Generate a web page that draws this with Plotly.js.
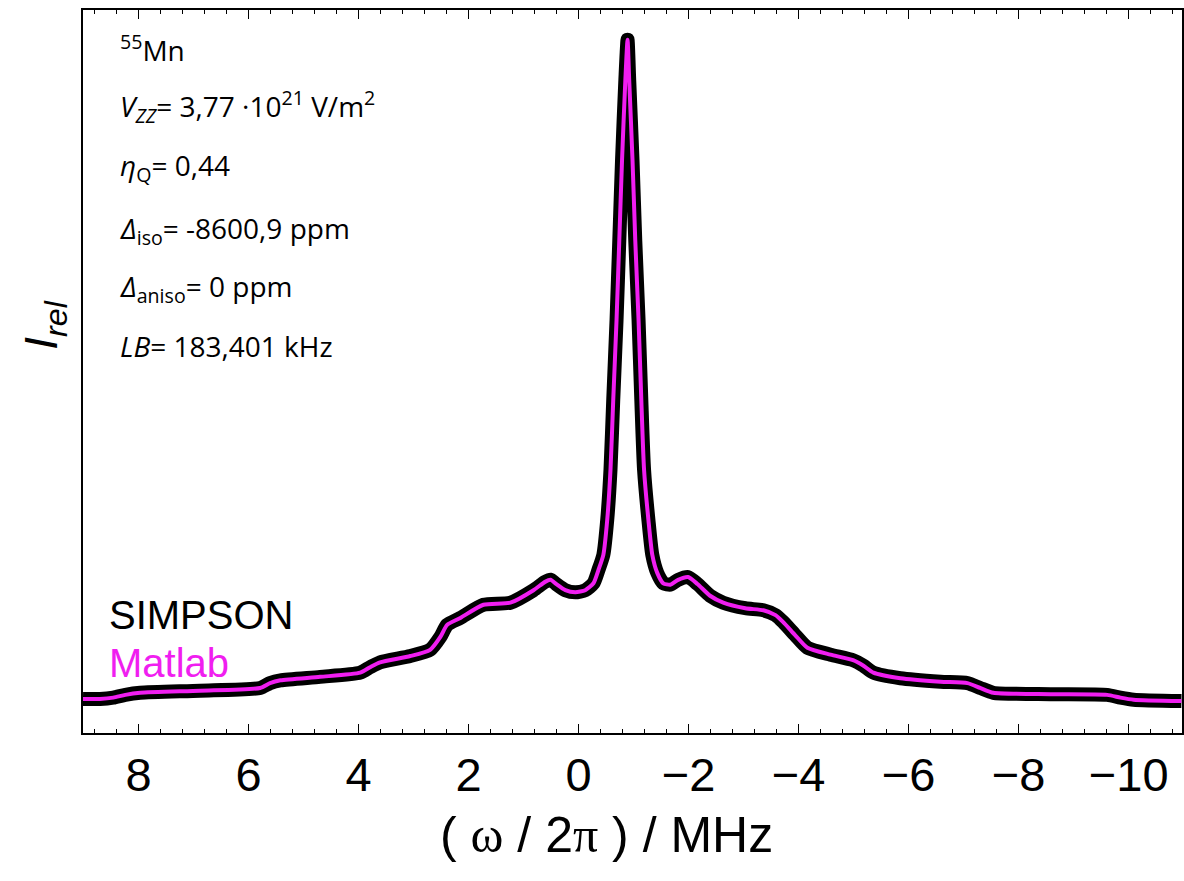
<!DOCTYPE html>
<html>
<head>
<meta charset="utf-8">
<script src="https://cdn.plot.ly/plotly-3.0.1.min.js"></script>
<style>html,body{margin:0;padding:0;background:#fff}#chart{width:1184px;height:881px}</style>
</head>
<body>
<div id="chart"></div>
<script>
// Frequency (MHz) and relative intensity
const freqMHz = [9.01, 8.70, 8.46, 8.24, 7.97, 6.88, 5.79, 5.61, 5.42, 4.70, 3.97, 3.79, 3.61, 3.06, 2.70, 2.51, 2.39, 2.15, 1.73, 1.24, 0.82, 0.61, 0.51, 0.41, 0.24, 0.06, -0.12, -0.27, -0.36, -0.45, -0.52, -0.58, -0.63, -0.69, -0.74, -0.79, -0.85, -0.89, -0.92, -0.98, -1.03, -1.09, -1.14, -1.19, -1.27, -1.34, -1.43, -1.54, -1.67, -1.81, -1.99, -2.16, -2.39, -2.63, -3.03, -3.36, -3.58, -3.72, -3.94, -4.16, -4.58, -4.99, -5.18, -5.36, -5.85, -6.58, -7.07, -7.30, -7.54, -8.58, -9.61, -9.85, -10.09, -10.96];
const simpson = [0.049, 0.049, 0.051, 0.055, 0.058, 0.061, 0.065, 0.072, 0.076, 0.081, 0.087, 0.095, 0.102, 0.111, 0.120, 0.139, 0.156, 0.166, 0.185, 0.188, 0.206, 0.218, 0.221, 0.215, 0.206, 0.203, 0.206, 0.216, 0.235, 0.257, 0.307, 0.380, 0.481, 0.596, 0.711, 0.827, 0.942, 1.000, 0.942, 0.827, 0.711, 0.596, 0.481, 0.380, 0.307, 0.257, 0.231, 0.216, 0.214, 0.221, 0.225, 0.215, 0.198, 0.188, 0.180, 0.177, 0.170, 0.160, 0.141, 0.123, 0.113, 0.105, 0.097, 0.087, 0.079, 0.074, 0.072, 0.065, 0.058, 0.056, 0.055, 0.051, 0.048, 0.046];
const matlab = simpson.slice();
const seriesNames = ["SIMPSON", "Matlab"];
const paramLines = [
  "<sup>55</sup>Mn",
  "<i>V<sub>ZZ</sub></i>= 3,77 ·10<sup>21</sup> V/m<sup>2</sup>",
  "<i>η</i><sub>Q</sub>= 0,44",
  "<i>Δ</i><sub>iso</sub>= -8600,9 ppm",
  "<i>Δ</i><sub>aniso</sub>= 0 ppm",
  "<i>LB</i>= 183,401 kHz"
];
const paramY = [0.947, 0.867, 0.783, 0.696, 0.615, 0.535];

const black = "#000000";
const magenta = "#f01ef0";

const traces = [
  {x: freqMHz, y: simpson, name: seriesNames[0], type: "scatter", mode: "lines",
   line: {color: black, width: 14, shape: "spline", smoothing: 0.6}, hoverinfo: "skip"},
  {x: freqMHz, y: matlab, name: seriesNames[1], type: "scatter", mode: "lines",
   line: {color: magenta, width: 4, shape: "spline", smoothing: 0.6}, hoverinfo: "skip"}
];

const sans = "Liberation Sans, Arial, sans-serif";
const annotations = paramLines.map((t, i) => ({
  xref: "paper", yref: "paper", x: 0.032, y: paramY[i], xanchor: "left", yanchor: "middle",
  text: t, showarrow: false, font: {family: "Open Sans, sans-serif", size: 28, color: "#000"}
}));
annotations.push(
  {xref: "paper", yref: "paper", x: 0.022, y: 0.163, xanchor: "left", yanchor: "middle",
   text: seriesNames[0], showarrow: false, font: {family: sans, size: 40, color: black}},
  {xref: "paper", yref: "paper", x: 0.022, y: 0.097, xanchor: "left", yanchor: "middle",
   text: seriesNames[1], showarrow: false, font: {family: sans, size: 40, color: magenta}},
  {xref: "paper", yref: "paper", x: 0.476, y: -0.141, xanchor: "center", yanchor: "middle",
   text: "( <span style=\"font-family:'Liberation Serif',serif\">ω</span> / 2<span style=\"font-family:'Liberation Serif',serif\">π</span> ) / MHz",
   showarrow: false, font: {family: sans, size: 50, color: "#000"}},
  {xref: "paper", yref: "paper", x: -0.035, y: 0.564, xanchor: "center", yanchor: "middle",
   textangle: -90, text: "<i>I<sub>rel</sub></i>", showarrow: false,
   font: {family: sans, size: 46, color: "#000"}}
);

const layout = {
  width: 1184, height: 881,
  margin: {l: 83, r: 2, t: 10, b: 148},
  paper_bgcolor: "#fff", plot_bgcolor: "#fff",
  showlegend: false,
  xaxis: {
    range: [9.01, -10.97], tickmode: "linear", tick0: 0, dtick: 2,
    ticks: "inside", ticklen: 9, tickwidth: 1.5, tickcolor: "#000",
    showline: true, linecolor: "#000", linewidth: 2, mirror: "ticks",
    showgrid: false, zeroline: false,
    tickfont: {family: sans, size: 47, color: "#000"},
    minor: {ticks: "inside", ticklen: 4, tickwidth: 1.2, tickcolor: "#000", dtick: 0.4, tick0: 0, showgrid: false}
  },
  yaxis: {
    range: [0, 1.043], showticklabels: false, ticks: "",
    showline: true, linecolor: "#000", linewidth: 2, mirror: true,
    showgrid: false, zeroline: false
  },
  annotations: annotations
};

Plotly.newPlot("chart", traces, layout, {displayModeBar: false, staticPlot: true});
</script>
</body>
</html>
